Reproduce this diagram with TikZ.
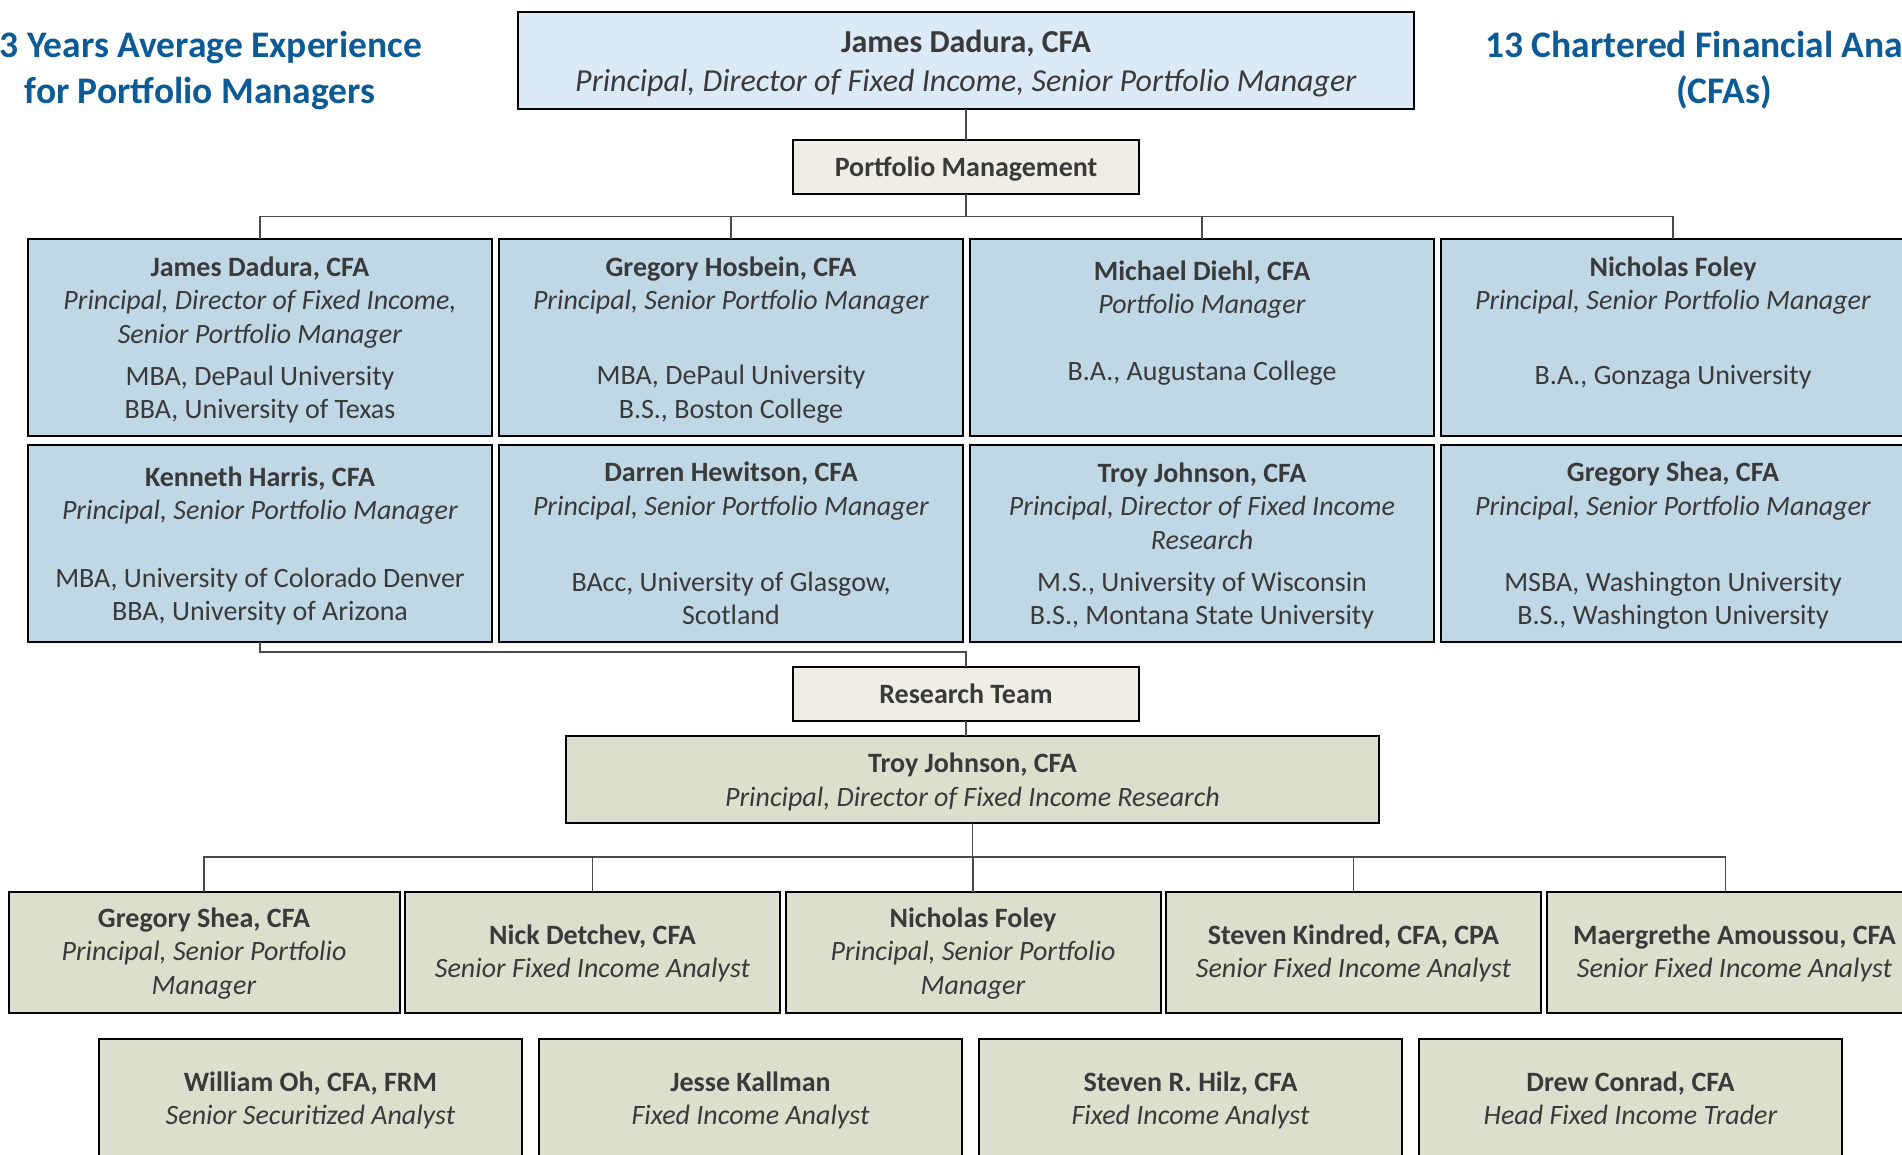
\documentclass[tikz,border=0pt]{standalone}
\usepackage{fontspec}
\setmainfont{Carlito}
\usepackage{xcolor}
\usetikzlibrary{positioning}
\definecolor{headblue}{HTML}{0C5B96}
\definecolor{txtgray}{HTML}{3A3A3A}
\definecolor{topfill}{HTML}{DCEAF8}
\definecolor{pmfill}{HTML}{C0D7E6}
\definecolor{grpfill}{HTML}{EFEDE6}
\definecolor{rsfill}{HTML}{DCDFCD}
\definecolor{linkgray}{HTML}{4A4A4A}
\tikzset{
  hdr/.style={font=\fontsize{18.75}{23}\selectfont\bfseries, text=headblue,
              inner sep=0pt, anchor=base},
  topbox/.style={rectangle, draw=black, line width=1pt, fill=topfill,
                 text=txtgray, align=center, outer sep=0pt, text depth=-1.5pt,
                 minimum width=447.8pt, minimum height=48.5pt,
                 font=\fontsize{16}{19.5}\selectfont},
  grp/.style={rectangle, draw=black, line width=1pt, fill=grpfill,
              text=txtgray, outer sep=0pt, minimum width=173pt, text depth=0pt,
              minimum height=27pt, font=\fontsize{14}{16}\selectfont\bfseries},
  pmbox/.style={rectangle, draw=black, line width=1pt, fill=pmfill,
                text=txtgray, align=center, inner sep=0pt, outer sep=0pt,
                minimum width=232pt, minimum height=98.5pt, text depth=0pt,
                font=\fontsize{14}{16.75}\selectfont},
  rsbox/.style={rectangle, draw=black, line width=1pt, fill=rsfill,
                text=txtgray, align=center, inner sep=0pt, outer sep=0pt,
                minimum width=187.5pt, minimum height=60.5pt, text depth=1.5pt,
                font=\fontsize{14}{16.75}\selectfont},
  link/.style={draw=linkgray, line width=0.7pt},
}
\begin{document}
\begin{tikzpicture}[x=0.5pt, y=-0.5pt]
  \useasboundingbox (0,0) rectangle (1902,1155);
  % headline figures
  \node[hdr] (yrs1) at (211,57.5)  {3 Years Average Experience};
  \node[hdr] (yrs2) at (200,103.5) {for Portfolio Managers};
  \node[hdr, anchor=base west] (cfa1) at (1485,57.5) {13 Chartered Financial Ana};
  \node[hdr] (cfa2) at (1724,103.5) {(CFAs)};
  % portfolio management
  \node[topbox] (head) at (966,61)
    {\textbf{James Dadura, CFA}\\\textit{Principal, Director of Fixed Income, Senior Portfolio Manager}};
  \node[grp] (pm) at (966,167) {Portfolio Management};
  \node[pmbox] (dadura) at (260,337.5)
    {\textbf{James Dadura, CFA}\\\textit{Principal, Director of Fixed Income,}\\\textit{Senior Portfolio Manager}\\[4.25pt]MBA, DePaul University\\BBA, University of Texas};
  \node[pmbox, right=3.5pt of dadura] (hosbein)
    {\textbf{Gregory Hosbein, CFA}\\\textit{Principal, Senior Portfolio Manager}\\[20.75pt]MBA, DePaul University\\B.S., Boston College};
  \node[pmbox, right=3.5pt of hosbein] (diehl)
    {\textbf{Michael Diehl, CFA}\\\textit{Portfolio Manager}\\[16.75pt]B.A., Augustana College\\\mbox{}};
  \node[pmbox, right=3.5pt of diehl] (foley)
    {\textbf{Nicholas Foley}\\\textit{Principal, Senior Portfolio Manager}\\[20.75pt]B.A., Gonzaga University\\\mbox{}};
  \node[pmbox, below=4.5pt of dadura] (harris)
    {\textbf{Kenneth Harris, CFA}\\\textit{Principal, Senior Portfolio Manager}\\[17pt]MBA, University of Colorado Denver\\BBA, University of Arizona};
  \node[pmbox, below=4.5pt of hosbein] (hewitson)
    {\textbf{Darren Hewitson, CFA}\\\textit{Principal, Senior Portfolio Manager}\\[21.25pt]BAcc, University of Glasgow,\\Scotland};
  \node[pmbox, below=4.5pt of diehl] (johnson)
    {\textbf{Troy Johnson, CFA}\\\textit{Principal, Director of Fixed Income}\\\textit{Research}\\[4.25pt]M.S., University of Wisconsin\\B.S., Montana State University};
  \node[pmbox, below=4.5pt of foley] (shea)
    {\textbf{Gregory Shea, CFA}\\\textit{Principal, Senior Portfolio Manager}\\[21.25pt]MSBA, Washington University\\B.S., Washington University};
  % research team
  \node[grp] (rs) at (966,694) {Research Team};
  \node[rsbox, text depth=0pt, minimum width=406.5pt, minimum height=43.5pt] (rlead) at (972.5,779.5)
    {\textbf{Troy Johnson, CFA}\\\textit{Principal, Director of Fixed Income Research}};
  \node[rsbox, minimum width=195.5pt] (rshea) at (204,952.5)
    {\textbf{Gregory Shea, CFA}\\\textit{Principal, Senior Portfolio}\\\textit{Manager}};
  \node[rsbox, right=2.75pt of rshea] (detchev)
    {\textbf{Nick Detchev, CFA}\\\textit{Senior Fixed Income Analyst}};
  \node[rsbox, right=2.75pt of detchev] (rfoley)
    {\textbf{Nicholas Foley}\\\textit{Principal, Senior Portfolio}\\\textit{Manager}};
  \node[rsbox, right=2.75pt of rfoley] (kindred)
    {\textbf{Steven Kindred, CFA, CPA}\\\textit{Senior Fixed Income Analyst}};
  \node[rsbox, right=3pt of kindred] (amoussou)
    {\textbf{Maergrethe Amoussou, CFA}\\\textit{Senior Fixed Income Analyst}};
  \node[rsbox, minimum width=211.5pt] (oh) at (310.5,1099.5)
    {\textbf{William Oh, CFA, FRM}\\\textit{Senior Securitized Analyst}};
  \node[rsbox, minimum width=211.5pt, right=8.5pt of oh] (kallman)
    {\textbf{Jesse Kallman}\\\textit{Fixed Income Analyst}};
  \node[rsbox, minimum width=211.5pt, right=8.5pt of kallman] (hilz)
    {\textbf{Steven R. Hilz, CFA}\\\textit{Fixed Income Analyst}};
  \node[rsbox, minimum width=211.5pt, right=8.5pt of hilz] (conrad)
    {\textbf{Drew Conrad, CFA}\\\textit{Head Fixed Income Trader}};
  % connectors
  \coordinate (pmbus) at (966,216.7);
  \coordinate (rsbus) at (966,652);
  \coordinate (rbus)  at (972.5,857);
  \draw[link] (head.south) -- (pm.north);
  \draw[link] (pm.south) -- (pmbus);
  \foreach \n in {dadura,hosbein,diehl,foley}
    \draw[link] (pmbus) -| (\n.north);
  \draw[link] (harris.south) |- (rsbus) -- (rs.north);
  \draw[link] (rs.south) -- (rs.south |- rlead.north);
  \draw[link] (rlead.south) -- (rbus);
  \foreach \n in {rshea,detchev,rfoley,kindred}
    \draw[link] (rbus) -| (\n.north);
  \draw[link] (rbus) -| ([xshift=-4.5pt]amoussou.north);
\end{tikzpicture}
\end{document}
